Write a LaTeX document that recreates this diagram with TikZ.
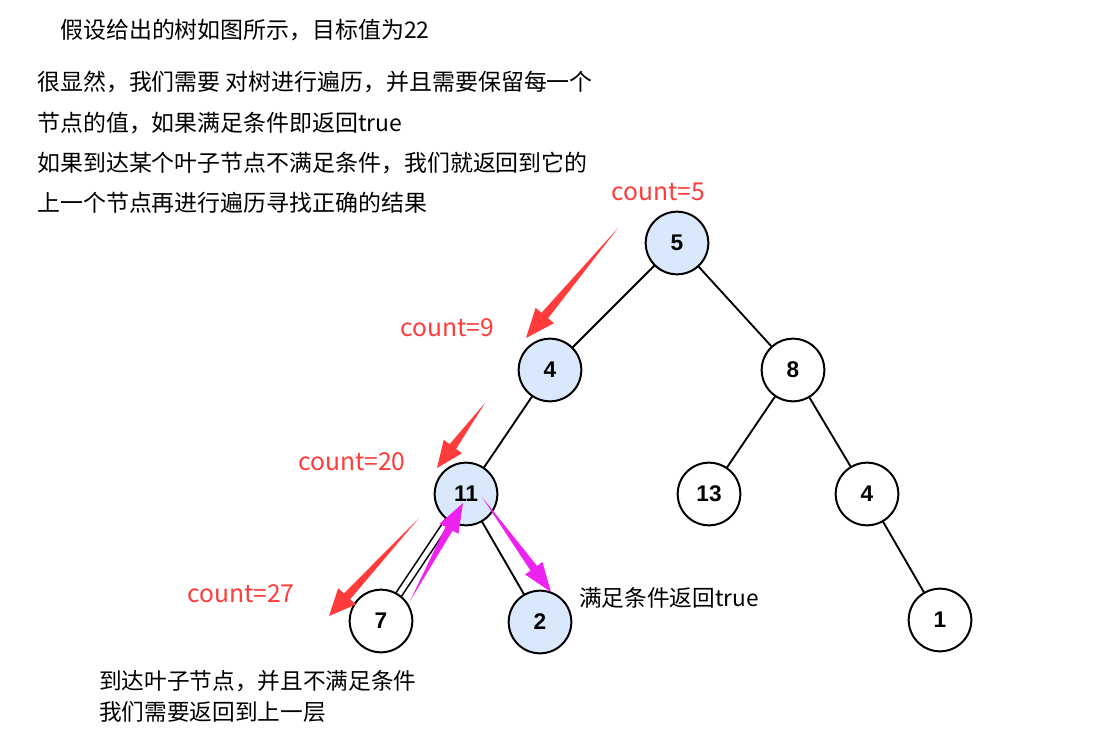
\documentclass[tikz,border=0pt]{standalone}
\usepackage{fontspec}
\setmainfont{Noto Sans CJK SC}
\newfontfamily\numfont{Liberation Sans}
\usetikzlibrary{calc}
\definecolor{nodeblue}{HTML}{DAE8FC}
\definecolor{annred}{HTML}{FF3B3B}
\definecolor{annmag}{HTML}{EE22EE}
\newcommand{\fatarr}[6]{%
  \fill[#1] (#2)
    -- ($(#3)!#4!(#2)!#6!90:(#3)$)
    -- ($(#3)!#4!(#2)!#5!90:(#3)$)
    -- (#3)
    -- ($(#3)!#4!(#2)!#5!-90:(#3)$)
    -- ($(#3)!#4!(#2)!#6!-90:(#3)$)
    -- cycle;}
\begin{document}
\begin{tikzpicture}[x=0.75pt,y=-0.75pt,
  tnode/.style={circle,draw=black,line width=1.5pt,minimum size=47pt,inner sep=0pt,
    font=\numfont\bfseries\fontsize{17}{20}\selectfont},
  bluenode/.style={tnode,fill=nodeblue},
  whitenode/.style={tnode,fill=white},
  edge/.style={line width=1.4pt,black},
  redtxt/.style={text=annred,font=\fontsize{18.5}{22}\selectfont,inner sep=0pt},
  bodytxt/.style={anchor=west,inner sep=0pt,font=\fontsize{17.2}{20}\selectfont},
  smalltxt/.style={anchor=west,inner sep=0pt,font=\fontsize{17}{20}\selectfont}]
\useasboundingbox (0,0) rectangle (1112,741);
% text
\node[bodytxt] (t0) at (60,30) {假设给出的树如图所示，目标值为22};
\node[bodytxt] (t1) at (37,82) {很显然，我们需要 对树进行遍历，并且需要保留每一个};
\node[bodytxt] (t2) at (37,123) {节点的值，如果满足条件即返回true};
\node[bodytxt] (t3) at (37,163) {如果到达某个叶子节点不满足条件，我们就返回到它的};
\node[bodytxt] (t4) at (37,203) {上一个节点再进行遍历寻找正确的结果};
% tree nodes
\coordinate (p5) at (677,243);
\coordinate (p4) at (550,370);
\coordinate (p8) at (793,370);
\coordinate (p11) at (466,494);
\coordinate (p13) at (709,494);
\coordinate (p4r) at (867,494);
\coordinate (p7) at (381,621);
\coordinate (p2) at (540,622);
\coordinate (p1) at (940,620);
\draw[edge] (p5) -- (p4);
\draw[edge] (p5) -- (p8);
\draw[edge] (p4) -- (p11);
\draw[edge] (p8) -- (p13);
\draw[edge] (p8) -- (p4r);
\draw[edge] (p4r) -- (p1);
\draw[edge] (p11) -- (p2);
\draw[line width=1.2pt,double=white,double distance=3.6pt] (p11) -- (p7);
\node[bluenode] (n5) at (p5) {5};
\node[bluenode] (n4) at (p4) {4};
\node[whitenode] (n8) at (p8) {8};
\node[bluenode] (n11) at (p11) {11};
\node[whitenode] (n13) at (p13) {13};
\node[whitenode] (n4r) at (p4r) {4};
\node[whitenode] (n7) at (p7) {7};
\node[bluenode] (n2) at (p2) {2};
\node[whitenode] (n1) at (p1) {1};
% annotation arrows
\coordinate (ra1t) at (618,228); \coordinate (ra1h) at (526,338);
\coordinate (ra2t) at (485,403); \coordinate (ra2h) at (437,468);
\coordinate (ra3t) at (419,518); \coordinate (ra3h) at (329,616);
\coordinate (ma1t) at (410,601); \coordinate (ma1h) at (463,503);
\coordinate (ma2t) at (482,497); \coordinate (ma2h) at (551,592);
\fatarr{annred}{ra1t}{ra1h}{22pt}{9pt}{3.2pt}
\fatarr{annred}{ra2t}{ra2h}{20pt}{8.5pt}{3pt}
\fatarr{annred}{ra3t}{ra3h}{20pt}{9pt}{3.2pt}
\fatarr{annmag}{ma1t}{ma1h}{22pt}{8pt}{3pt}
\fatarr{annmag}{ma2t}{ma2h}{22pt}{8pt}{3pt}
% labels
\node[redtxt] (c5) at (658,192) {count=5};
\node[redtxt] (c9) at (447,328) {count=9};
\node[redtxt] (c20) at (352,462) {count=20};
\node[redtxt] (c27) at (241,594) {count=27};
\node[smalltxt] (ok) at (579,598) {满足条件返回true};
\node[smalltxt] (b1) at (99,681) {到达叶子节点，并且不满足条件};
\node[smalltxt] (b2) at (99,712) {我们需要返回到上一层};
\end{tikzpicture}
\end{document}
